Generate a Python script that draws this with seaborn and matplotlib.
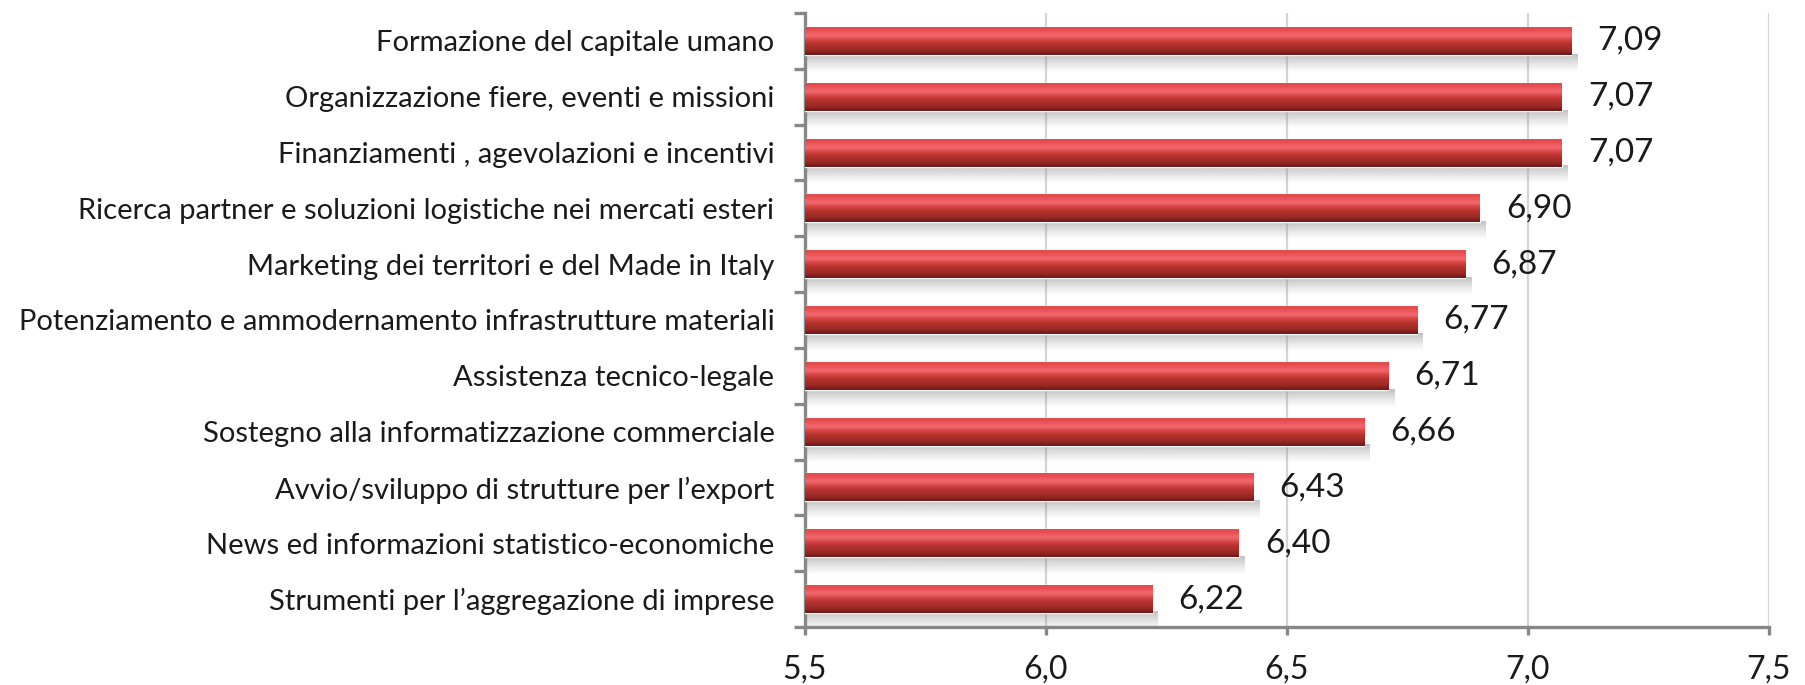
import numpy as np
import pandas as pd
import matplotlib
matplotlib.use("Agg")
import matplotlib.pyplot as plt
import seaborn as sns
from matplotlib.colors import LinearSegmentedColormap, to_rgb
from matplotlib.ticker import MultipleLocator, FuncFormatter

# data
categories = [
    "Formazione del capitale umano",
    "Organizzazione fiere, eventi e missioni",
    "Finanziamenti , agevolazioni e incentivi",
    "Ricerca partner e soluzioni logistiche nei mercati esteri",
    "Marketing dei territori e del Made in Italy",
    "Potenziamento e ammodernamento infrastrutture materiali",
    "Assistenza tecnico-legale",
    "Sostegno alla informatizzazione commerciale",
    "Avvio/sviluppo di strutture per l\u2019export",
    "News ed informazioni statistico-economiche",
    "Strumenti per l\u2019aggregazione di imprese",
]
values = [7.09, 7.07, 7.07, 6.90, 6.87, 6.77, 6.71, 6.66, 6.43, 6.40, 6.22]
value_labels = ["7,09", "7,07", "7,07", "6,90", "6,87", "6,77", "6,71", "6,66", "6,43", "6,40", "6,22"]
x_ticks = [5.5, 6.0, 6.5, 7.0, 7.5]

df = pd.DataFrame({"cat": categories, "val": values})

sns.set_style("white")
plt.rcParams["font.family"] = ["Lato", "DejaVu Sans"]

fig = plt.figure(figsize=(18.06, 6.85), dpi=100)
ax = fig.add_axes([0.4457, 0.0847, 0.5338, 0.8963])

sns.barplot(data=df, x="val", y="cat", orient="h", color="#C0352F",
            width=0.5, ax=ax, zorder=3)

# glossy red gradient + soft shadow under each bar
bar_cmap = LinearSegmentedColormap.from_list("bar", [
    (0.00, "#D85050"), (0.08, "#E94B4D"), (0.30, "#F06A6E"),
    (0.45, "#D94444"), (0.60, "#B5332D"), (0.85, "#982824"), (1.00, "#6E1716"),
])
grad = np.linspace(0, 1, 64).reshape(-1, 1)
shadow = np.zeros((32, 1, 4))
shadow[..., :3] = to_rgb("#8C8C8C")
shadow[:, 0, 3] = np.linspace(0.6, 0.0, 32) ** 1.2

for p in ax.patches:
    x0, y0, w, h = p.get_x(), p.get_y(), p.get_width(), p.get_height()
    ax.imshow(grad, cmap=bar_cmap, aspect="auto", interpolation="bicubic",
              extent=(x0, x0 + w, y0 + h, y0), zorder=4)
    ax.imshow(shadow, aspect="auto", interpolation="bicubic",
              extent=(x0, x0 + w + 0.012, y0 + h + 0.32, y0 + h - 0.02), zorder=2)

ax.bar_label(ax.containers[0], labels=value_labels, padding=19,
             fontsize=24, color="#1a1a1a")

ax.set_xlim(5.5, 7.5)
ax.set_ylim(len(categories) - 0.5, -0.5)
ax.set_xticks(x_ticks)
ax.xaxis.set_major_formatter(FuncFormatter(lambda v, _: f"{v:.1f}".replace(".", ",")))
ax.set_xlabel("")
ax.set_ylabel("")

ax.grid(axis="x", color="#D4D4D4", linewidth=1.6, zorder=0)
ax.grid(axis="y", visible=False)

for s in ["top", "right"]:
    ax.spines[s].set_visible(False)
for s in ["left", "bottom"]:
    ax.spines[s].set_color("#878787")
    ax.spines[s].set_linewidth(2.4)

ax.yaxis.set_minor_locator(MultipleLocator(1, offset=0.5))
ax.tick_params(axis="y", which="major", length=0, pad=22, labelsize=21, labelcolor="#1a1a1a")
ax.tick_params(axis="y", which="minor", length=8, width=2.4, color="#878787", direction="out", left=True)
ax.tick_params(axis="x", which="major", length=6, width=2.4, color="#878787", direction="out",
               bottom=True, pad=14, labelsize=23, labelcolor="#1a1a1a")

fig.savefig("out.png", dpi=100)
